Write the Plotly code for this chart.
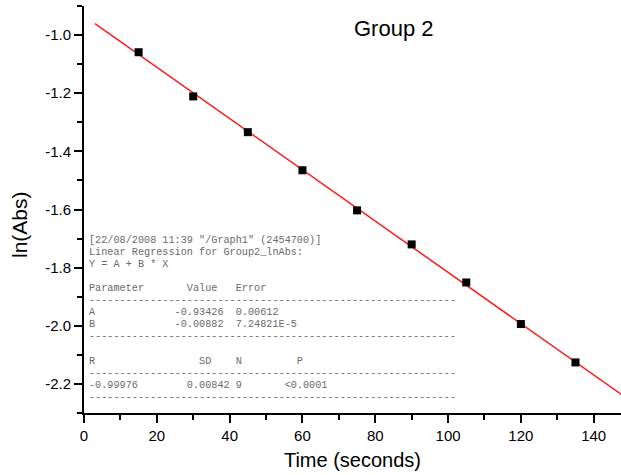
import plotly.graph_objects as go

# ---- data ----
time_s = [15, 30, 45, 60, 75, 90, 105, 120, 135]
ln_abs = [-1.059, -1.211, -1.334, -1.465, -1.603, -1.720, -1.851, -1.994, -2.126]
fit_A = -0.93426
fit_B = -0.00882
fit_x = [3, 150]

x_tickvals = [0, 20, 40, 60, 80, 100, 120, 140]
x_ticktext = ["0", "20", "40", "60", "80", "100", "120", "140"]
y_tickvals = [-1.0, -1.2, -1.4, -1.6, -1.8, -2.0, -2.2]
y_ticktext = ["-1.0", "-1.2", "-1.4", "-1.6", "-1.8", "-2.0", "-2.2"]

report_lines = [
    '[22/08/2008 11:39 "/Graph1" (2454700)]',
    'Linear Regression for Group2_lnAbs:',
    'Y = A + B * X',
    '',
    'Parameter       Value   Error',
    '-' * 60,
    'A             -0.93426  0.00612',
    'B             -0.00882  7.24821E-5',
    '-' * 60,
    '',
    'R                 SD    N         P',
    '-' * 60,
    '-0.99976        0.00842 9       <0.0001',
    '-' * 60,
]

W, H = 621, 475
ML, MR, MT, MB = 84, 0, 6, 62
plot_h = H - MT - MB
plot_w = W - ML - MR

fig = go.Figure()
fit_y = [fit_A + fit_B * x for x in fit_x]
fig.add_trace(go.Scatter(x=fit_x, y=fit_y, mode="lines",
                         line=dict(color="#ff1a1a", width=1.5), hoverinfo="skip"))
fig.add_trace(go.Scatter(x=time_s, y=ln_abs, mode="markers",
                         marker=dict(symbol="square", size=8, color="black",
                                     line=dict(width=0))))

axis_font = dict(family="Liberation Sans, Arial, Helvetica", size=15, color="black")
fig.update_xaxes(range=[0, 147.5], showline=True, linewidth=2, linecolor="black",
                 ticks="outside", ticklen=8, tickwidth=1.5, tickcolor="black",
                 tickvals=x_tickvals, ticktext=x_ticktext, tickfont=axis_font,
                 minor=dict(ticks="outside", ticklen=5, tickwidth=1.5, dtick=10,
                            tick0=0, tickcolor="black", showgrid=False),
                 showgrid=False, zeroline=False,
                 title=dict(text="Time (seconds)",
                            font=dict(family="Liberation Sans, Arial", size=20, color="black"),
                            standoff=10))
fig.update_yaxes(range=[-2.3, -0.9], showline=True, linewidth=2, linecolor="black",
                 ticks="outside", ticklen=8, tickwidth=1.5, tickcolor="black",
                 tickvals=y_tickvals, ticktext=y_ticktext, tickfont=axis_font,
                 minor=dict(ticks="outside", ticklen=5, tickwidth=1.5, dtick=0.1,
                            tick0=-2.3, tickcolor="black", showgrid=False),
                 showgrid=False, zeroline=False)

annotations = []
# y-axis title
annotations.append(dict(text="ln(Abs)", textangle=-90, xref="paper", yref="paper",
                        x=(20 - ML) / plot_w, y=(H - MB - 225) / plot_h,
                        xanchor="center", yanchor="middle", showarrow=False,
                        font=dict(family="Liberation Sans, Arial", size=21, color="black")))
# chart title
annotations.append(dict(text="Group 2", xref="paper", yref="paper",
                        x=(352 - ML) / plot_w, y=(H - MB - 28) / plot_h,
                        xanchor="left", yanchor="middle", showarrow=False,
                        font=dict(family="Liberation Sans, Arial", size=22, color="black")))
# regression report
first_line_px = 240
line_step_px = 12.1
for i, line in enumerate(report_lines):
    if not line:
        continue
    py = first_line_px + i * line_step_px
    annotations.append(dict(text=line.replace(" ", "\u00a0"), xref="paper", yref="paper",
                            x=(87 - ML) / plot_w, y=(H - MB - py) / plot_h,
                            xanchor="left", yanchor="middle", showarrow=False,
                            font=dict(family="Liberation Mono, Courier New, monospace",
                                      size=10.2, color="#6a6a6a")))

fig.update_layout(width=W, height=H, margin=dict(l=ML, r=MR, t=MT, b=MB),
                  paper_bgcolor="white", plot_bgcolor="white", showlegend=False,
                  annotations=annotations)

fig.write_html("out.html")
